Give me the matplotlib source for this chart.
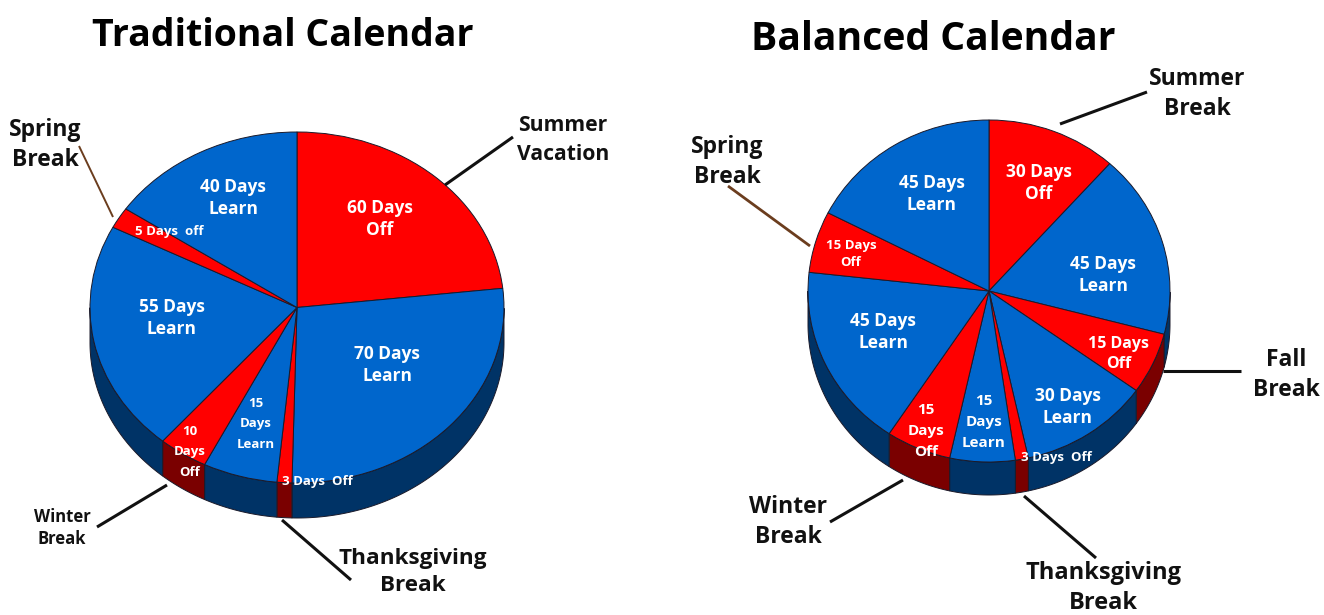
import numpy as np
import matplotlib
matplotlib.use("Agg")
import matplotlib.pyplot as plt

W, H = 1324, 615
FONT = "Open Sans"

# ── data ─────────────────────────────────────────────
trad_days = [60, 70, 3, 15, 10, 55, 5, 40]
trad_kind = ["off", "learn", "off", "learn", "off", "learn", "off", "learn"]
bal_days = [30, 45, 15, 30, 3, 15, 15, 45, 15, 45]
bal_kind = ["off", "learn", "off", "learn", "off", "learn", "off", "learn", "off", "learn"]

TOP = {"off": "#ff0000", "learn": "#0066cc"}
SIDE = {"off": "#7a0000", "learn": "#003366"}
EDGE = "#1a1a2a"
INK = "#111111"


def pie_3d(fig, days, kind, cx, cy, rx, ry, depth):
    """Pie with squashed axes and an extruded wall on the front half."""
    ax = fig.add_axes([(cx - rx) / W, 1 - (cy + ry + depth) / H,
                       2 * rx / W, (2 * ry + depth) / H])
    wedges, _ = ax.pie(days, colors=[TOP[k] for k in kind], startangle=90, counterclock=False,
                       wedgeprops=dict(edgecolor=EDGE, linewidth=0.7, zorder=3))
    d = depth / ry
    ax.set_aspect("auto")
    ax.set_xlim(-1, 1)
    ax.set_ylim(-1 - d, 1)
    ax.axis("off")

    edges = 90 - np.concatenate([[0], np.cumsum(days)]) * 360 / sum(days)
    for a0, a1, k in zip(edges[:-1], edges[1:], kind):
        # only the part of the slice below the horizontal is visible
        t = np.radians(np.arange(a0, a1, -0.5))
        t = np.append(t, np.radians(a1))
        t = t[np.sin(t) <= 0]
        if len(t) < 2:
            continue
        x, y = np.cos(t), np.sin(t)
        ax.fill(np.r_[x, x[::-1]], np.r_[y, y[::-1] - d], fc=SIDE[k], ec=EDGE,
                lw=0.7, zorder=2, clip_on=False)
    for w in wedges:
        w.set_clip_on(False)
    return ax


def label(ax, x, y, s, size=12.5, color="white", spacing=1.3):
    ax.text(x, y + 1, s, ha="center", va="center", fontsize=size, color=color,
            fontweight="bold", family=FONT, linespacing=spacing)


def callout(ax, x, y, s, size=16.5, spacing=1.36):
    label(ax, x, y + 1, s, size, INK, spacing)


def leader(ax, x0, y0, x1, y1, color=INK, lw=2.2):
    ax.plot([x0, x1], [y0, y1], color=color, lw=lw, solid_capstyle="butt")


fig = plt.figure(figsize=(W / 100, H / 100), dpi=100, facecolor="white")
pie_3d(fig, trad_days, trad_kind, 297, 307.5, 207, 175.5, 35)
pie_3d(fig, bal_days, bal_kind, 989, 291, 181, 171, 33)

# overlay in pixel coordinates for text and leader lines
ov = fig.add_axes([0, 0, 1, 1], facecolor="none")
ov.set_xlim(0, W)
ov.set_ylim(H, 0)
ov.axis("off")

# titles
label(ov, 283, 35, "Traditional Calendar", 27, "black")
label(ov, 933, 38, "Balanced Calendar", 28.2, "black")

# traditional slices
label(ov, 380, 218, "60 Days\nOff")
label(ov, 387, 364, "70 Days\nLearn")
label(ov, 317, 480, "3 Days  Off", 9.5)
label(ov, 256, 423, "15\nDays\nLearn", 9.5, spacing=1.75)
label(ov, 190, 451, "10\nDays\nOff", 9.5, spacing=1.75)
label(ov, 172, 317, "55 Days\nLearn")
label(ov, 169, 231, "5 Days  off", 9.5)
label(ov, 233, 197, "40 Days\nLearn")

# balanced slices
label(ov, 1039, 182, "30 Days\nOff")
label(ov, 1103, 274, "45 Days\nLearn")
label(ov, 1119, 353, "15 Days\nOff", 11.5)
label(ov, 1068, 406, "30 Days\nLearn")
label(ov, 1056, 456, "3 Days  Off", 9.5)
label(ov, 984, 421, "15\nDays\nLearn", 11, spacing=1.65)
label(ov, 926, 430, "15\nDays\nOff", 11, spacing=1.65)
label(ov, 883, 331, "45 Days\nLearn")
label(ov, 851, 253, "15 Days\nOff", 9.5, spacing=1.45)
label(ov, 932, 193, "45 Days\nLearn")

# callouts, traditional
callout(ov, 563, 138, "Summer\nVacation", 15.2, 1.45)
leader(ov, 445, 185, 513, 137)
callout(ov, 45, 143, "Spring\nBreak")
leader(ov, 79, 146, 113, 217, "#6b3d1e", 1.4)
callout(ov, 62, 526, "Winter\nBreak", 12, 1.3)
leader(ov, 97, 527, 167, 485)
callout(ov, 413, 570, "Thanksgiving\nBreak", 16.2)
leader(ov, 282, 520, 351, 580)

# callouts, balanced
callout(ov, 1197, 92, "Summer\nBreak")
leader(ov, 1060, 124, 1147, 92)
callout(ov, 727, 160, "Spring\nBreak")
leader(ov, 728, 186, 810, 246, "#6b3d1e", 2)
callout(ov, 1286, 373, "Fall\nBreak")
leader(ov, 1163, 371, 1241, 371)
callout(ov, 788, 520, "Winter\nBreak")
leader(ov, 830, 522, 903, 480)
callout(ov, 1103, 586, "Thanksgiving\nBreak", 17, 1.3)
leader(ov, 1024, 496, 1096, 558)

fig.savefig("out.png", dpi=100, facecolor="white")
